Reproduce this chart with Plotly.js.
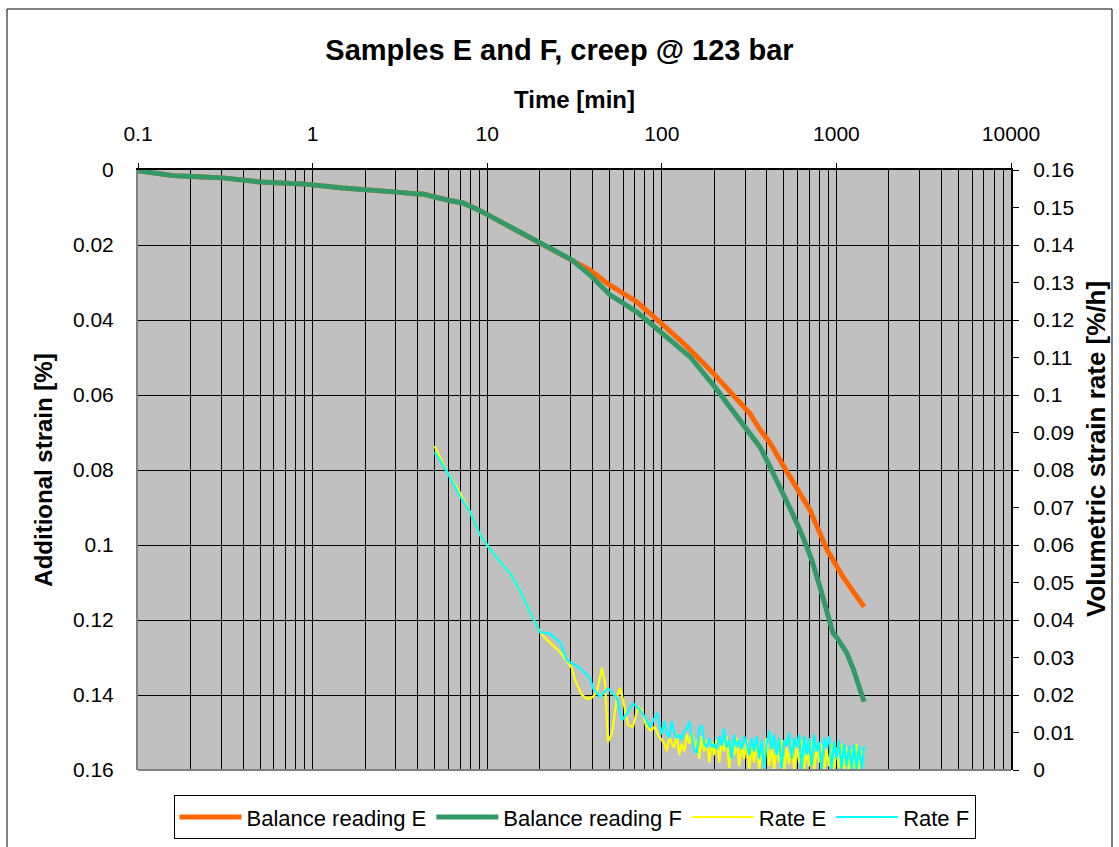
<!DOCTYPE html>
<html>
<head>
<meta charset="utf-8">
<script src="https://cdn.plot.ly/plotly-3.0.1.min.js"></script>
<style>html,body{margin:0;padding:0;background:#fff;}#chart{width:1119px;height:847px;}</style>
</head>
<body>
<div id="chart"></div>
<script>
// ---- Data ----
const chartTitle = "Samples E and F, creep @ 123 bar";
const xTitle = "Time [min]";
const yLeftTitle = "Additional strain [%]";
const yRightTitle = "Volumetric strain rate [%/h]";
const xTickVals = [0.1, 1, 10, 100, 1000, 10000];
const xTickText = ["0.1", "1", "10", "100", "1000", "10000"];

// Balance reading E: time [min] and additional strain [%]
const timeE = [0.1, 0.159, 0.218, 0.307, 0.5, 0.88, 1.49, 2.34, 3.04, 3.96, 4.29, 5.89, 7.27, 8.98, 11.38, 17.58, 20.06, 30.6,
  38.8, 48.6, 72.1, 101.6, 139.4, 196.5, 291.9, 320.1, 365.2, 416.6, 521.2, 706.3, 883.6, 1091, 1440];
const strainE = [0.0002, 0.0015, 0.0018, 0.0021, 0.0032, 0.0037, 0.0048, 0.0053, 0.0059, 0.0064, 0.0064, 0.0080, 0.0088, 0.0107, 0.0133, 0.0181, 0.0192, 0.0240,
  0.0267, 0.0302, 0.0352, 0.0413, 0.0471, 0.0541, 0.0627, 0.0650, 0.0693, 0.0728, 0.0805, 0.0907, 0.1013, 0.1085, 0.1165];

// Balance reading F
const timeF = [0.1, 0.159, 0.218, 0.307, 0.5, 0.88, 1.49, 2.34, 3.04, 3.96, 4.29, 5.89, 7.27, 8.98, 11.38, 17.58, 20.06, 30.6,
  38.8, 50.5, 72.1, 107.1, 145, 201.7, 307.6, 365.2, 416.6, 494.6, 559, 643.8, 723, 805.4, 884, 956, 1010, 1150, 1255, 1380, 1440];
const strainF = [0.0002, 0.0015, 0.0018, 0.0021, 0.0032, 0.0037, 0.0048, 0.0053, 0.0059, 0.0064, 0.0064, 0.0080, 0.0088, 0.0107, 0.0133, 0.0181, 0.0192, 0.0240,
  0.0280, 0.0333, 0.0379, 0.0445, 0.0498, 0.0579, 0.0693, 0.0739, 0.0791, 0.0861, 0.0915, 0.0979, 0.1040, 0.1112, 0.1173, 0.1235, 0.1248, 0.1289, 0.1333, 0.1387, 0.1418];

// Rate E: time [min] and volumetric strain rate [%/h]
const timeRateE = [5.0, 5.89, 6.99, 7.97, 9.09, 9.97, 11.84, 13.51, 15.41, 17.58, 20.06, 22.0, 26.1, 30.6, 31.8, 34.9, 37.5, 40.4, 42.6, 45.4,
  47.3, 49.2, 51.9, 55.4, 57.6, 60.0, 64.0, 68.4, 73.1, 77.0, 81.0, 86.0, 91.0, 96.0,
  100, 103.4, 106.8, 110.4, 114.1, 117.9, 121.8, 125.9, 130.1, 134.5,
  139.0, 143.6, 148.4, 153.4, 158.5, 163.8, 169.3, 175.0, 180.8, 186.9,
  193.1, 199.6, 206.3, 213.2, 220.3, 227.7, 235.3, 243.2, 251.3, 259.8,
  268.4, 277.4, 286.7, 296.3, 306.2, 316.5, 327.1, 338.0, 349.3, 361.0,
  373.1, 385.6, 398.5, 411.9, 425.6, 439.9, 454.6, 469.8, 485.6, 501.8,
  518.6, 536.0, 553.9, 572.5, 591.6, 611.4, 631.9, 653.1, 674.9, 697.5,
  720.9, 745.0, 770.0, 795.8, 822.4, 849.9, 878.4, 907.8, 938.2, 969.6,
  1002, 1036, 1070, 1106, 1143, 1182, 1221, 1262, 1304, 1348,
  1393, 1440];
const rateE = [0.0864, 0.0795, 0.0739, 0.0688, 0.0627, 0.0600, 0.0555, 0.0525, 0.0480, 0.0421, 0.0368, 0.0347, 0.0315, 0.0272, 0.0240, 0.0200, 0.0189, 0.0195, 0.0210, 0.0272,
  0.0232, 0.0075, 0.0099, 0.0195, 0.0219, 0.0187, 0.0120, 0.0115, 0.0168, 0.0160, 0.0120, 0.0105, 0.0115, 0.0090,
  0.0080, 0.0070, 0.0050, 0.0090, 0.0070, 0.0060, 0.0095, 0.0040, 0.0070, 0.0050,
  0.0095, 0.0070, 0.0100, 0.0060, 0.0080, 0.0030, 0.0090, 0.0050, 0.0080, 0.0020,
  0.0075, 0.0040, 0.0080, 0.0020, 0.0080, 0.0050, 0.0090, 0.0005, 0.0070, 0.0040,
  0.0085, 0.0010, 0.0070, 0.0030, 0.0080, 0.0000, 0.0065, 0.0020, 0.0080, 0.0000,
  0.0060, 0.0030, 0.0085, 0.0010, 0.0070, 0.0000, 0.0065, 0.0020, 0.0080, 0.0000,
  0.0060, 0.0015, 0.0075, 0.0000, 0.0065, 0.0020, 0.0080, 0.0000, 0.0060, 0.0010,
  0.0075, 0.0000, 0.0060, 0.0020, 0.0070, 0.0000, 0.0055, 0.0010, 0.0070, 0.0000,
  0.0060, 0.0005, 0.0070, 0.0000, 0.0060, 0.0000, 0.0055, 0.0005, 0.0070, 0.0000,
  0.0050, 0.0040];

// Rate F
const timeRateF = [5.0, 5.89, 6.99, 7.97, 9.09, 9.97, 11.84, 13.51, 15.41, 17.58, 20.06, 22.9, 26.1, 28.6, 34.0, 38.8, 40.4, 44.3, 49.2, 55.4,
  59.2, 63.0, 68.4, 75.0, 80.0, 85.6, 93.9,
  100, 103.4, 106.8, 110.4, 114.1, 117.9, 121.8, 125.9, 130.1, 134.5,
  139.0, 143.6, 148.4, 153.4, 158.5, 163.8, 169.3, 175.0, 180.8, 186.9,
  193.1, 199.6, 206.3, 213.2, 220.3, 227.7, 235.3, 243.2, 251.3, 259.8,
  268.4, 277.4, 286.7, 296.3, 306.2, 316.5, 327.1, 338.0, 349.3, 361.0,
  373.1, 385.6, 398.5, 411.9, 425.6, 439.9, 454.6, 469.8, 485.6, 501.8,
  518.6, 536.0, 553.9, 572.5, 591.6, 611.4, 631.9, 653.1, 674.9, 697.5,
  720.9, 745.0, 770.0, 795.8, 822.4, 849.9, 878.4, 907.8, 938.2, 969.6,
  1002, 1036, 1070, 1106, 1143, 1182, 1221, 1262, 1304, 1348,
  1393, 1440];
const rateF = [0.0848, 0.0795, 0.0730, 0.0688, 0.0627, 0.0600, 0.0555, 0.0525, 0.0480, 0.0421, 0.0368, 0.0363, 0.0341, 0.0293, 0.0272, 0.0245, 0.0218, 0.0195, 0.0218, 0.0192,
  0.0133, 0.0150, 0.0178, 0.0160, 0.0140, 0.0115, 0.0152,
  0.0095, 0.0130, 0.0100, 0.0085, 0.0130, 0.0100, 0.0085, 0.0095, 0.0080, 0.0105,
  0.0110, 0.0130, 0.0090, 0.0050, 0.0045, 0.0110, 0.0120, 0.0070, 0.0060, 0.0085,
  0.0060, 0.0070, 0.0055, 0.0090, 0.0065, 0.0110, 0.0060, 0.0080, 0.0030, 0.0095,
  0.0060, 0.0080, 0.0055, 0.0090, 0.0070, 0.0040, 0.0085, 0.0050, 0.0090, 0.0030,
  0.0080, 0.0000, 0.0070, 0.0105, 0.0055, 0.0095, 0.0040, 0.0085, 0.0005, 0.0080,
  0.0065, 0.0100, 0.0030, 0.0085, 0.0060, 0.0095, 0.0000, 0.0090, 0.0040, 0.0085,
  0.0010, 0.0095, 0.0050, 0.0075, 0.0000, 0.0085, 0.0060, 0.0090, 0.0000, 0.0075,
  0.0030, 0.0080, 0.0000, 0.0070, 0.0010, 0.0065, 0.0000, 0.0070, 0.0000, 0.0065,
  0.0000, 0.0065];

// ---- Chart ----
const FONT = "Arial, 'Liberation Sans', sans-serif";

const traces = [
  {x: timeE, y: strainE, name: "Balance reading E", type: "scatter", mode: "lines",
   line: {color: "#FF6600", width: 5}, xaxis: "x", yaxis: "y"},
  {x: timeF, y: strainF, name: "Balance reading F", type: "scatter", mode: "lines",
   line: {color: "#339966", width: 5}, xaxis: "x", yaxis: "y"},
  {x: timeRateE, y: rateE, name: "Rate E", type: "scatter", mode: "lines",
   line: {color: "#FFFF00", width: 2.2}, xaxis: "x", yaxis: "y2"},
  {x: timeRateF, y: rateF, name: "Rate F", type: "scatter", mode: "lines",
   line: {color: "#00FFFF", width: 2.2}, xaxis: "x", yaxis: "y2"}
];

const layout = {
  width: 1119, height: 847,
  margin: {l: 138, r: 108, t: 170, b: 77, autoexpand: false},
  paper_bgcolor: "#FFFFFF",
  plot_bgcolor: "#C0C0C0",
  font: {family: FONT, size: 21, color: "#000"},
  title: {text: chartTitle, font: {family: FONT, size: 29, color: "#000", weight: "bold"},
          x: 0.5, xref: "container", xanchor: "center", y: 1 - 50 / 847, yref: "container", yanchor: "middle"},
  showlegend: true,
  legend: {orientation: "h", x: 0.5, xanchor: "center", y: -0.042, yanchor: "top",
           bgcolor: "#FFFFFF", bordercolor: "#000", borderwidth: 1,
           font: {family: FONT, size: 22, color: "#000"}, itemwidth: 62, traceorder: "normal"},
  xaxis: {
    type: "log", range: [-1, 4], side: "top",
    tickmode: "array", tickvals: xTickVals, ticktext: xTickText,
    ticks: "outside", ticklen: 5, tickcolor: "#000", tickwidth: 1,
    tickfont: {family: FONT, size: 21, color: "#000"},
    ticklabelstandoff: 14,
    showgrid: true, gridcolor: "#000", gridwidth: 1,
    minor: {dtick: "D1", showgrid: true, gridcolor: "#000", gridwidth: 1, ticks: ""},
    showline: true, linecolor: "#000", linewidth: 2,
    zeroline: false,
    title: {text: xTitle, font: {family: FONT, size: 24, color: "#000", weight: "bold"}, standoff: 6}
  },
  yaxis: {
    range: [0.16, 0], dtick: 0.02, tick0: 0,
    ticks: "", tickfont: {family: FONT, size: 21, color: "#000"},
    ticklabelstandoff: 18,
    showgrid: true, gridcolor: "#000", gridwidth: 1,
    showline: true, linecolor: "#808080", linewidth: 2,
    zeroline: false,
    title: {text: yLeftTitle, font: {family: FONT, size: 24, color: "#000", weight: "bold"}, standoff: 14}
  },
  yaxis2: {
    range: [0, 0.16], dtick: 0.01, tick0: 0,
    overlaying: "y", side: "right", anchor: "x",
    ticks: "outside", ticklen: 6, tickcolor: "#000", tickwidth: 1,
    tickfont: {family: FONT, size: 21, color: "#000"},
    ticklabelstandoff: 10,
    showgrid: false,
    showline: true, linecolor: "#000", linewidth: 2,
    zeroline: false
  },
  annotations: [
    {text: yRightTitle, textangle: -90, xref: "paper", yref: "paper",
     x: (1096 - 138) / 873, y: (770 - 449) / 600, xanchor: "center", yanchor: "middle",
     showarrow: false, font: {family: FONT, size: 26, color: "#000", weight: "bold"}}
  ],
  shapes: [
    {type: "line", xref: "paper", yref: "paper", x0: 0, x1: 1, y0: 0, y1: 0,
     line: {color: "#808080", width: 2}, layer: "above"},
    {type: "rect", xref: "paper", yref: "paper",
     x0: (7 - 138) / 873, x1: (1112 - 138) / 873, y0: (770 - 860) / 600, y1: (770 - 9) / 600,
     line: {color: "#000", width: 1}, fillcolor: "rgba(0,0,0,0)", layer: "below"}
  ]
};

Plotly.newPlot("chart", traces, layout, {staticPlot: true, displayModeBar: false});
</script>
</body>
</html>
